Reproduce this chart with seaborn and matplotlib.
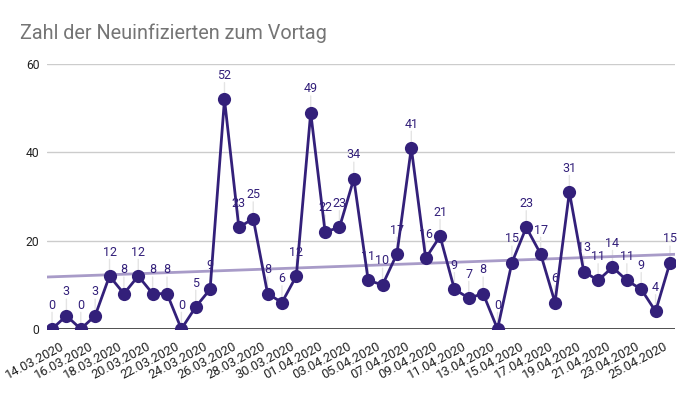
import numpy as np
import pandas as pd
import seaborn as sns
import matplotlib.pyplot as plt

# data
dates = pd.date_range('2020-03-14', '2020-04-26', freq='D').strftime('%d.%m.%Y').tolist()
values = [0, 3, 0, 3, 12, 8, 12, 8, 8, 0, 5, 9, 52, 23, 25, 8, 6, 12, 49, 22, 23, 34,
          11, 10, 17, 41, 16, 21, 9, 7, 8, 0, 15, 23, 17, 6, 31, 13, 11, 14, 11, 9, 4, 15]

df = pd.DataFrame({'Datum': dates, 'Neu': values})
df['idx'] = range(len(df))

sns.set_style('white')
plt.rcParams['font.family'] = ['Roboto', 'DejaVu Sans']

fig = plt.figure(figsize=(6.97, 3.93), dpi=100)
ax = fig.add_axes([47/697, 1-329/393, 628/697, 265/393])

purple = '#33207a'

# trend line (linear fit)
k, d = np.polyfit(df['idx'], df['Neu'], 1)
xs = np.array([-0.35, 43.35])
ax.plot(xs, k*xs + d, color='#a89bc8', lw=2, zorder=2)

sns.lineplot(data=df, x='idx', y='Neu', color=purple, lw=2, marker='o',
             markersize=9.5, markeredgewidth=0, ax=ax, zorder=4)

# labels with small leader lines
for i, v in zip(df['idx'], df['Neu']):
    ax.annotate('', (i, v), xytext=(0, 12), textcoords='offset points',
                arrowprops=dict(arrowstyle='-', color='#e4e4e4', lw=1,
                                shrinkA=0, shrinkB=0), zorder=1)
    ax.annotate(str(v), (i, v), xytext=(0, 12.5), textcoords='offset points',
                ha='center', va='bottom', fontsize=9, color=purple, zorder=3)

ax.set_ylim(0, 60)
ax.set_xlim(-0.35, 43.35)
ax.set_yticks([0, 20, 40, 60])
ax.yaxis.grid(True, color='#cccccc', lw=1)
ax.axhline(0, color='#333333', lw=1.2, zorder=3)
for s in ax.spines.values():
    s.set_visible(False)

# date labels, rotated, end slightly right of the tick
ax.set_xticks([])
for i, lab in zip(df['idx'][::2], df['Datum'][::2]):
    ax.annotate(lab, (i, 0), xycoords=('data', 'axes fraction'),
                xytext=(6, -8), textcoords='offset points',
                rotation=28, ha='right', va='top', rotation_mode='anchor',
                fontsize=9.3, color='#222222', annotation_clip=False)
ax.tick_params(axis='y', labelsize=8.7, labelcolor='#222222', length=0, pad=5.5)
ax.set_xlabel('')
ax.set_ylabel('')

fig.text(20/697, 1-33/393, 'Zahl der Neuinfizierten zum Vortag', fontsize=14.3,
         color='#757575', va='center', ha='left')

fig.savefig('out.png', dpi=100)
